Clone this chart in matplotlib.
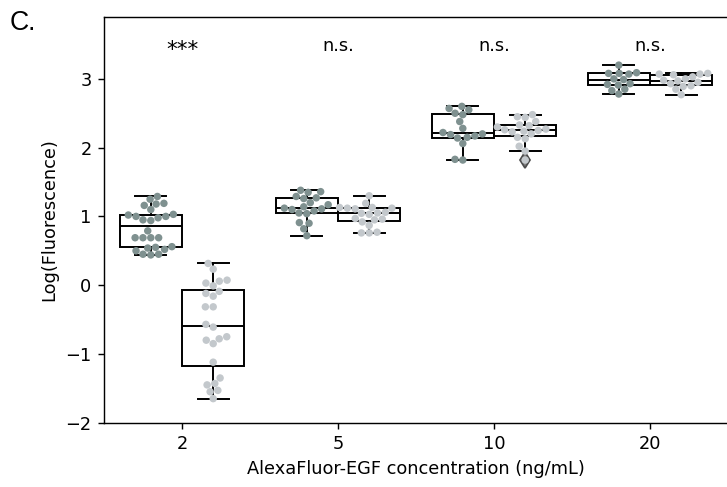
import numpy as np
import pandas as pd
import matplotlib
matplotlib.use("Agg")
import matplotlib.pyplot as plt
import seaborn as sns

# ---------------- data ----------------
conc_labels = ["2", "5", "10", "20"]
groups = ["control", "treated"]
annotations = ["***", "n.s.", "n.s.", "n.s."]

g2_dark = [1.29, 1.25, 1.16, 1.18, 1.19, 1.10, 1.03, 1.00, 0.95, 1.02, 0.98, 1.00, 0.94,
           0.79, 0.69, 0.69, 0.69, 0.69, 0.50, 0.52, 0.54, 0.55, 0.56, 0.44, 0.45, 0.45]
g2_light = [0.316, 0.233, 0.073, 0.058, 0.03, -0.01, -0.09, -0.12, -0.16, -0.315, -0.315,
            -0.57, -0.61, -0.75, -0.78, -0.80, -0.85, -1.12, -1.35, -1.43, -1.45, -1.53,
            -1.55, -1.65]
g5_dark = [0.72, 0.82, 0.90, 0.91, 1.04, 1.05, 1.08, 1.10, 1.11, 1.12, 1.14, 1.17, 1.20,
           1.26, 1.27, 1.29, 1.35, 1.36, 1.38]
g5_light = [0.76, 0.76, 0.77, 0.87, 0.92, 0.95, 0.96, 0.97, 1.03, 1.045, 1.05, 1.06, 1.11,
            1.12, 1.12, 1.13, 1.13, 1.19, 1.30]
g10_dark = [2.60, 2.57, 2.55, 2.50, 2.48, 2.38, 2.28, 2.22, 2.20, 2.19, 2.17, 2.15, 2.14,
            2.06, 1.83, 1.82]
g10_light = [2.48, 2.45, 2.44, 2.38, 2.33, 2.32, 2.30, 2.27, 2.26, 2.25, 2.24, 2.23, 2.20,
             2.15, 2.13, 2.02, 1.95, 1.82]
g20_dark = [3.20, 3.09, 3.08, 3.08, 3.07, 3.00, 2.99, 2.93, 2.92, 2.91, 2.85, 2.83, 2.78]
g20_light = [3.08, 3.07, 3.07, 3.06, 3.03, 3.00, 2.98, 2.97, 2.95, 2.93, 2.90, 2.89, 2.85,
             2.77]

dark_series = [g2_dark, g5_dark, g10_dark, g20_dark]
light_series = [g2_light, g5_light, g10_light, g20_light]

# ---------------- style ----------------
DARK = "#7f9190"
LIGHT = "#c3c8cc"
DPI = 128

rows = []
for c, d, l in zip(conc_labels, dark_series, light_series):
    rows += [(c, groups[0], v) for v in d]
    rows += [(c, groups[1], v) for v in l]
df = pd.DataFrame(rows, columns=["conc", "group", "value"])

fig = plt.figure(figsize=(727 / DPI, 487 / DPI), dpi=DPI)
ax = fig.add_axes([104 / 727, (487 - 422.7) / 487, (728 - 104) / 727, (422.7 - 17) / 487])

lw = 1.1
box_data = []
positions = []
for i, (d, l) in enumerate(zip(dark_series, light_series)):
    box_data += [d, l]
    positions += [i - 0.2, i + 0.2]

ax.boxplot(box_data, positions=positions, widths=0.4, patch_artist=True,
           manage_ticks=False, zorder=2,
           boxprops=dict(facecolor="white", edgecolor="black", linewidth=lw),
           medianprops=dict(color="black", linewidth=lw),
           whiskerprops=dict(color="black", linewidth=lw),
           capprops=dict(color="black", linewidth=lw),
           flierprops=dict(marker="d", markerfacecolor="0.5", markeredgecolor="0.3",
                           markersize=6))

sns.swarmplot(data=df, x="conc", y="value", hue="group", order=conc_labels,
              hue_order=groups, dodge=True, palette=[DARK, LIGHT], size=4.2,
              legend=False, ax=ax, zorder=3)

for i, txt in enumerate(annotations):
    if txt == "***":
        ax.text(i, 3.33, txt, ha="center", va="baseline", fontsize=12)
    else:
        ax.text(i, 3.40, txt, ha="center", va="baseline", fontsize=10)

ax.set_xlim(-0.5, 3.5)
ax.set_ylim(-2, 3.9)
ax.set_yticks([-2, -1, 0, 1, 2, 3])
ax.set_xticks(range(len(conc_labels)))
ax.set_xticklabels(conc_labels)
ax.set_xlabel("AlexaFluor-EGF concentration (ng/mL)")
ax.set_ylabel("Log(Fluorescence)")

fig.text(10 / 727, 1 - 30 / 487, "C.", fontsize=15, family="Liberation Sans",
         ha="left", va="baseline")

fig.savefig("out.png", dpi=DPI)
